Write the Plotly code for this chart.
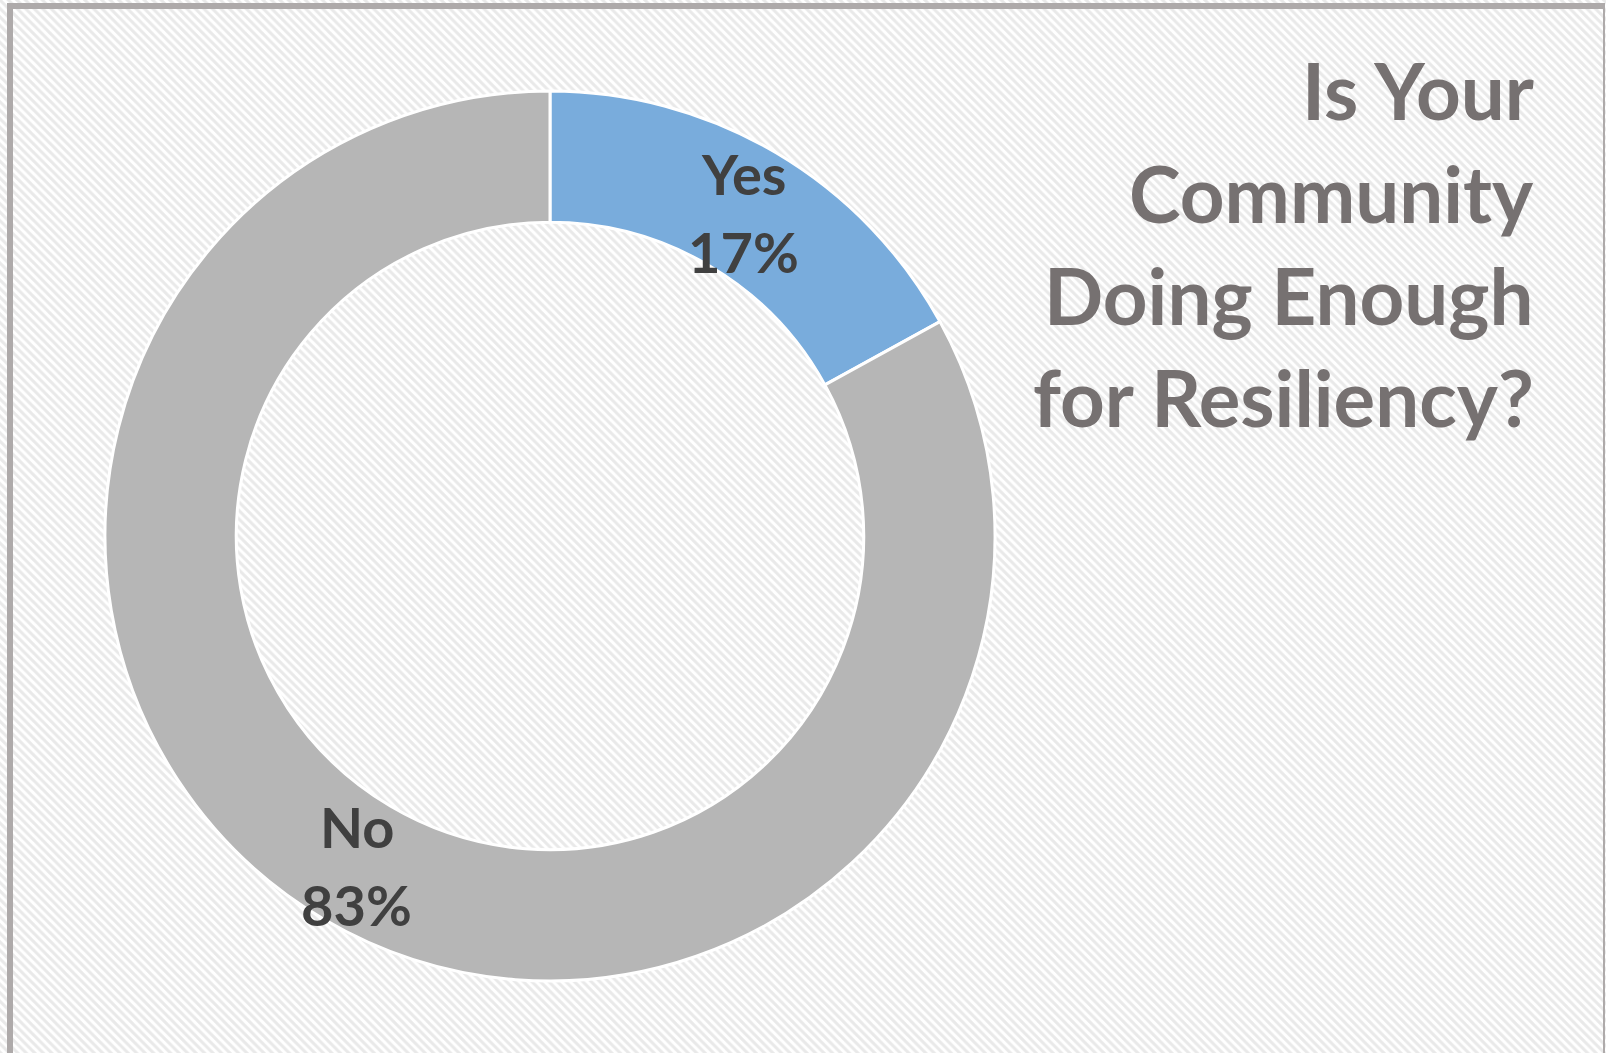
import math
import plotly.graph_objects as go

# ---- data ----
labels = ["Yes", "No"]
values = [17, 83]
colors = ["#79acdc", "#b6b6b6"]
title_lines = ["Is Your", "Community", "Doing Enough", "for Resiliency?"]

W, H = 1606, 1053
cx, cy, R, hole = 550, 536, 445, 0.705
FONT = "Lato"

fig = go.Figure()

# patterned background (decorative)
fig.add_trace(go.Bar(
    x=[0.5], y=[1], width=[1], base=[0],
    marker=dict(color="#ffffff", line=dict(width=0),
                pattern=dict(shape="\\", size=6, solidity=0.5,
                             fgcolor="#d3d3d3", bgcolor="#ffffff")),
    hoverinfo="skip", showlegend=False,
))

fig.add_trace(go.Pie(
    labels=labels, values=values, sort=False, direction="clockwise",
    rotation=0, hole=hole, textinfo="none",
    marker=dict(colors=colors, line=dict(color="#ffffff", width=3)),
    domain=dict(x=[(cx - R) / W, (cx + R) / W],
                y=[1 - (cy + R) / H, 1 - (cy - R) / H]),
    showlegend=False, hoverinfo="label+percent",
))

annotations = []
total = sum(values)
cum = 0
rmid = R * (1 + hole) / 2
for lab, v in zip(labels, values):
    theta = 2 * math.pi * (cum + v / 2) / total
    cum += v
    px = cx + rmid * math.sin(theta)
    py = cy - rmid * math.cos(theta) + 3
    pct = round(100 * v / total)
    for txt, dy in ((lab, -39), (f"{pct}%", 39)):
        annotations.append(dict(
            x=px / W, y=1 - (py + dy) / H, xref="paper", yref="paper",
            text=f"<b>{txt}</b>", showarrow=False, xanchor="center", yanchor="middle",
            font=dict(family=FONT, size=56, color="#404040"),
        ))

title_y = [90, 193, 295, 397]
for line, ty in zip(title_lines, title_y):
    annotations.append(dict(
        x=1536 / W, y=1 - ty / H, xref="paper", yref="paper",
        text=f"<b>{line}</b>", showarrow=False, xanchor="right", yanchor="middle",
        font=dict(family=FONT, size=78, color="#767171"),
    ))

border = "#aeaaaa"
shapes = [
    dict(type="line", xref="paper", yref="paper", x0=10 / W, x1=10 / W, y0=0, y1=1 - 3 / H,
         line=dict(color=border, width=6)),
    dict(type="line", xref="paper", yref="paper", x0=7 / W, x1=1605 / W, y0=1 - 6 / H, y1=1 - 6 / H,
         line=dict(color=border, width=6)),
    dict(type="line", xref="paper", yref="paper", x0=1604 / W, x1=1604 / W, y0=0, y1=1 - 3 / H,
         line=dict(color=border, width=2)),
]

fig.update_layout(
    width=W, height=H, margin=dict(l=0, r=0, t=0, b=0),
    paper_bgcolor="#ffffff", plot_bgcolor="rgba(0,0,0,0)",
    xaxis=dict(domain=[0, 1], range=[0, 1], visible=False, fixedrange=True),
    yaxis=dict(domain=[0, 1], range=[0, 1], visible=False, fixedrange=True),
    annotations=annotations, shapes=shapes, showlegend=False,
    font=dict(family=FONT),
)

fig.write_html(
    "out.html",
    config={"displayModeBar": False},
    post_script="document.body.style.margin='0';document.body.style.overflow='hidden';",
)
